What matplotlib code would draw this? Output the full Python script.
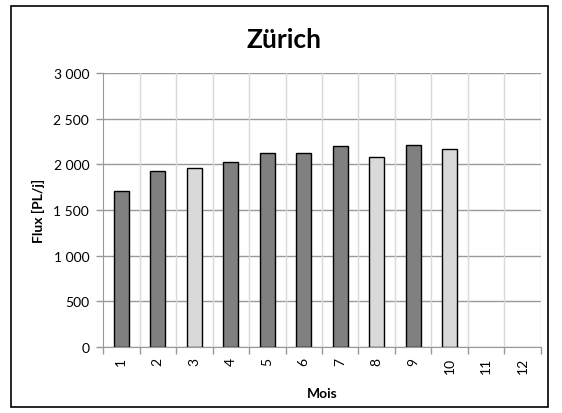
import numpy as np
import matplotlib.pyplot as plt
from matplotlib.patches import Rectangle
from matplotlib.ticker import FuncFormatter, MultipleLocator

plt.rcParams['font.family'] = ['Lato', 'DejaVu Sans']

months = [str(m) for m in range(1, 13)]
flux = [1710, 1925, 1960, 2025, 2125, 2125, 2200, 2080, 2210, 2165, 0, 0]
light = [False, False, True, False, False, False, False, True, False, True, False, False]

fig = plt.figure(figsize=(5.62, 4.14), dpi=100)
ax = fig.add_axes([0.1833, 0.1594, 0.7793, 0.662])

x = np.arange(len(months))
colors = ['#d9d9d9' if l else '#808080' for l in light]
n_data = 10
ax.bar(x[:n_data], flux[:n_data], width=0.4, color=colors[:n_data],
       edgecolor='black', linewidth=1.0, zorder=3)

ax.set_xlim(-0.5, len(months) - 0.5)
ax.set_ylim(0, 3000)
ax.yaxis.set_major_locator(MultipleLocator(500))
ax.yaxis.set_major_formatter(FuncFormatter(lambda v, p: f"{int(v):,}".replace(",", " ")))

ax.set_xticks(x)
ax.set_xticklabels(months, rotation=90, fontsize=10)
ax.set_xticks(np.arange(-0.5, len(months)), minor=True)
ax.tick_params(axis='x', which='major', length=0, pad=7)
ax.tick_params(axis='x', which='minor', length=5, color='#999999', width=1)
ax.tick_params(axis='y', length=5, color='#999999', width=1, labelsize=10, pad=5)

# grid lines
for xv in np.arange(0.5, len(months) - 0.5):
    ax.axvline(xv, color='#d9d9d9', linewidth=1, zorder=1)
ax.axvline(len(months) - 0.5, color='#d9d9d9', linewidth=1, zorder=1)
ax.yaxis.grid(True, color='#999999', linewidth=1, zorder=2)
ax.set_axisbelow(True)

for s in ['top', 'right']:
    ax.spines[s].set_visible(False)
ax.spines['left'].set_color('#999999')
ax.spines['bottom'].set_color('#999999')

ax.set_xlabel('Mois', fontsize=10, fontweight='bold', labelpad=10)
ax.set_ylabel('Flux [PL/j]', fontsize=10, fontweight='bold', labelpad=6)
fig.text(0.505, 0.903, 'Zürich', ha='center', va='center', fontsize=19, fontweight='bold')

fig.patches.append(Rectangle((11 / 562, 1 - 408 / 414), 537 / 562, 401 / 414,
                             transform=fig.transFigure, fill=False,
                             edgecolor='black', linewidth=1.2))

fig.savefig('out.png', dpi=100)
